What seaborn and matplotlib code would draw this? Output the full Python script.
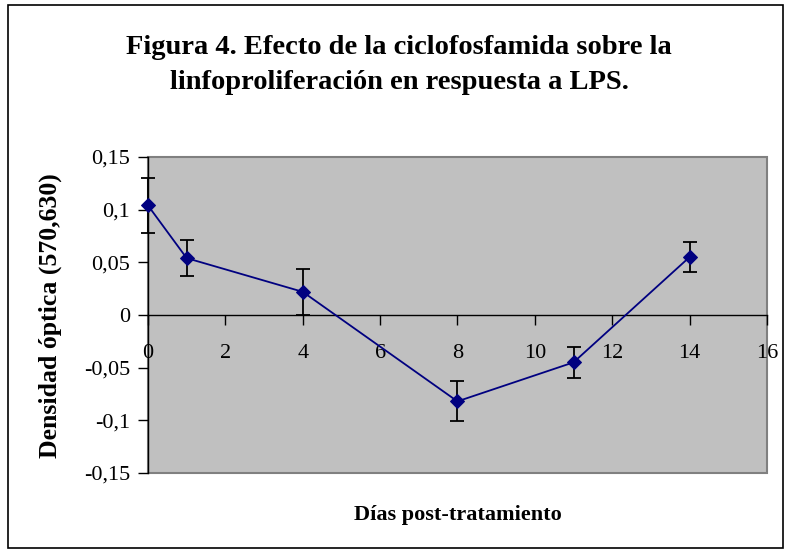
import matplotlib
matplotlib.use("Agg")
import matplotlib.pyplot as plt
from matplotlib.patches import Rectangle
import seaborn as sns
import pandas as pd

# data
dias = [0, 1, 4, 8, 11, 14]
densidad = [0.104, 0.054, 0.022, -0.082, -0.045, 0.055]
error = [0.026, 0.017, 0.022, 0.019, 0.015, 0.014]
y_ticks = [-0.15, -0.1, -0.05, 0, 0.05, 0.1, 0.15]
y_labels = ["-0,15", "-0,1", "-0,05", "0", "0,05", "0,1", "0,15"]
x_ticks = [0, 2, 4, 6, 8, 10, 12, 14, 16]

df = pd.DataFrame({"dias": dias, "densidad": densidad, "error": error})

sns.set_style("white")
plt.rcParams["font.family"] = ["Liberation Serif", "DejaVu Serif"]
plt.rcParams["text.color"] = "black"
plt.rcParams["xtick.color"] = "black"
plt.rcParams["ytick.color"] = "black"

fig = plt.figure(figsize=(7.9, 5.53), dpi=100)
ax = fig.add_axes([0.1873, 0.1447, 0.7835, 0.5714])
ax.set_facecolor("#C0C0C0")

ax.errorbar(df["dias"], df["densidad"], yerr=df["error"], fmt="none",
            ecolor="black", elinewidth=1.3, capsize=5, capthick=1.3,
            zorder=2, clip_on=False)
sns.lineplot(data=df, x="dias", y="densidad", color="#000080", marker="D",
             markersize=7, markeredgecolor="#000080", linewidth=1.3, ax=ax,
             zorder=3, clip_on=False)

ax.set_xlim(0, 16)
ax.set_ylim(-0.15, 0.15)
ax.set_xticks(x_ticks)
ax.set_yticks(y_ticks)
ax.set_yticklabels(y_labels)

for s in ["top", "right"]:
    ax.spines[s].set_visible(False)
ax.spines["bottom"].set_position(("data", 0))
ax.spines["bottom"].set_color("black")
ax.spines["left"].set_color("black")
ax.spines["bottom"].set_linewidth(1.0)
ax.spines["left"].set_linewidth(1.0)
ax.add_patch(Rectangle((0, 0), 1, 1, transform=ax.transAxes, fill=False,
                       edgecolor="#808080", linewidth=1.5, clip_on=False, zorder=0.5))

ax.tick_params(axis="both", direction="out", length=7, width=1, color="black",
               labelcolor="black", labelsize=16, bottom=True, left=True)
ax.tick_params(axis="x", pad=14)
ax.tick_params(axis="y", pad=6)

ax.set_xlabel("")
ax.set_ylabel("")
fig.text(0.58, 0.068, "Días post-tratamiento", ha="center", va="center",
         fontsize=16, fontweight="bold")
fig.text(0.064, 0.43, "Densidad óptica (570,630)", ha="center", va="center",
         rotation=90, fontsize=18.5, fontweight="bold")
fig.text(0.505, 0.915, "Figura 4. Efecto de la ciclofosfamida sobre la",
         ha="center", va="center", fontsize=20.5, fontweight="bold")
fig.text(0.505, 0.85, "linfoproliferación en respuesta a LPS.",
         ha="center", va="center", fontsize=20.5, fontweight="bold")

fig.patches.append(Rectangle((8 / 790, 5 / 553), 775 / 790, 543 / 553,
                             transform=fig.transFigure, fill=False,
                             edgecolor="black", linewidth=1.2))

fig.savefig("out.png", dpi=100)
plt.close(fig)
